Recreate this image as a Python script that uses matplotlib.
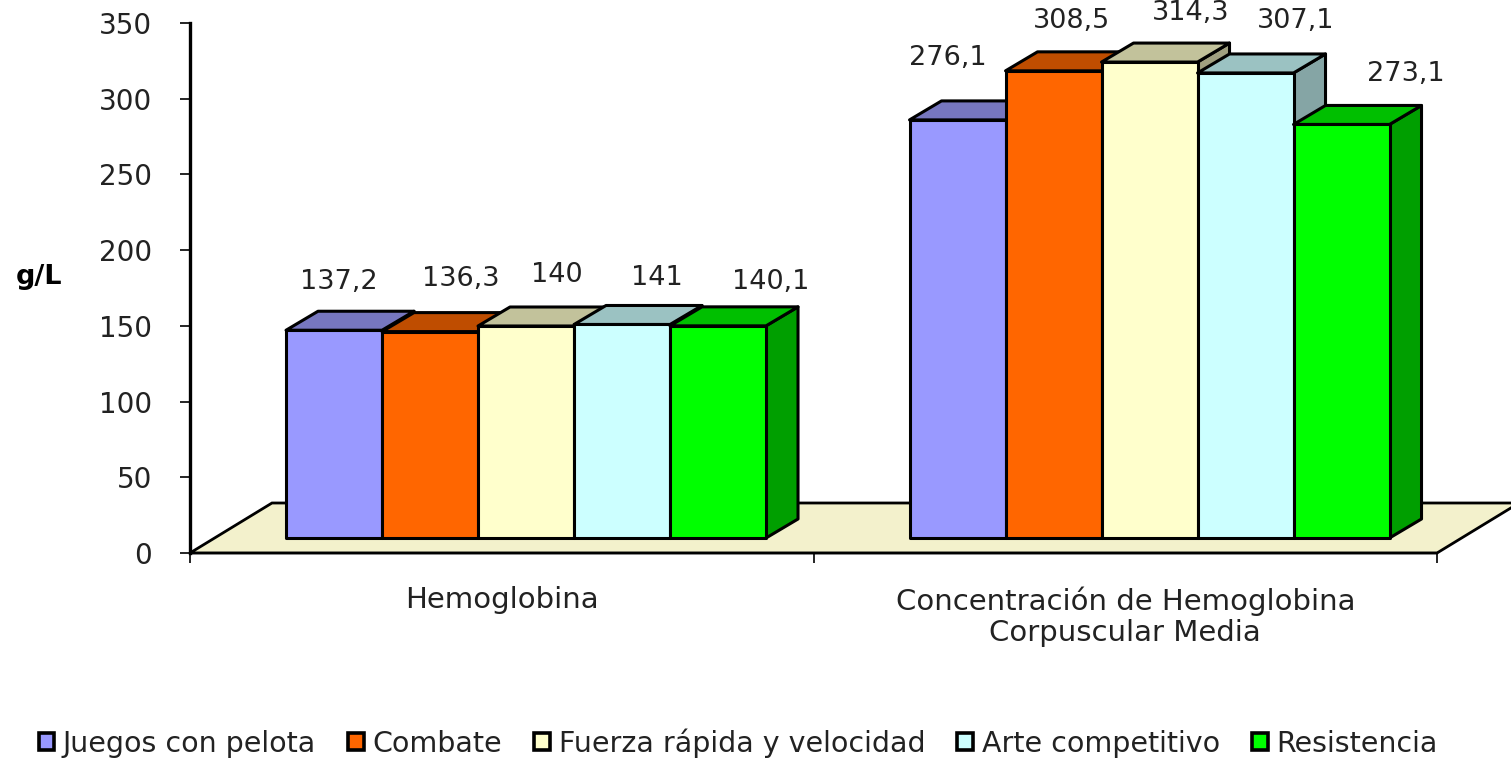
import matplotlib
matplotlib.use('Agg')
import matplotlib.pyplot as plt
from matplotlib.patches import Polygon, Patch

categories = ['Hemoglobina', 'Concentración de Hemoglobina\nCorpuscular Media']
series = ['Juegos con pelota', 'Combate', 'Fuerza rápida y velocidad', 'Arte competitivo', 'Resistencia']
hemoglobina = [137.2, 136.3, 140, 141, 140.1]
concentracion = [276.1, 308.5, 314.3, 307.1, 273.1]
labels_hb = ['137,2', '136,3', '140', '141', '140,1']
labels_chcm = ['276,1', '308,5', '314,3', '307,1', '273,1']
yticks = [0, 50, 100, 150, 200, 250, 300, 350]

colors = ['#9999FF', '#FF6600', '#FFFFCC', '#CCFFFF', '#00FF00']
tops = ['#7777BF', '#BF4D00', '#C2C29B', '#9BC2C2', '#00BF00']
sides = ['#6060A0', '#A04000', '#A0A080', '#85A5A5', '#009F00']
floor_color = '#F3F1CC'

# label offsets from the top of each bar, in pixels
offs_hb = [(5, 48), (31, 53), (31, 51), (35, 46), (53, 44)]
offs_chcm = [(-10, 62), (18, 50), (41, 49), (50, 52), (64, 50)]

FS = 20
plt.rcParams['font.family'] = ['DejaVu Sans']

W, H = 1511, 759
fig = plt.figure(figsize=(W / 100, H / 100), dpi=100)
ax = fig.add_axes([190 / W, 1 - 553 / H, 1247 / W, 530 / H])
ax.set_xlim(0, 2)
ax.set_ylim(0, 350)

px_x = 2 / 1247
px_y = 350 / 530
bar_w = 96 * px_x
base = 15 * px_y
dx, dy = 32 * px_x, 19 * px_y
fdx, fdy = 82 * px_x, 50 * px_y

floor = Polygon([(0, 0), (fdx, fdy), (2 + fdx, fdy), (2, 0)], closed=True, fc=floor_color,
                ec='black', lw=2, clip_on=False, zorder=1)
ax.add_patch(floor)

for g, (vals, labs, offs) in enumerate([(hemoglobina, labels_hb, offs_hb),
                                        (concentracion, labels_chcm, offs_chcm)]):
    start = g + 0.154
    for i, v in enumerate(vals):
        x0 = start + i * bar_w
        x1 = x0 + bar_w
        y1 = base + v
        kw = dict(closed=True, ec='black', lw=2.2, clip_on=False, zorder=2 + i, joinstyle='round')
        ax.add_patch(Polygon([(x1, base), (x1 + dx, base + dy), (x1 + dx, y1 + dy), (x1, y1)], fc=sides[i], **kw))
        ax.add_patch(Polygon([(x0, y1), (x0 + dx, y1 + dy), (x1 + dx, y1 + dy), (x1, y1)], fc=tops[i], **kw))
        ax.add_patch(Polygon([(x0, base), (x0, y1), (x1, y1), (x1, base)], fc=colors[i], **kw))
        ax.annotate(labs[i], (x0 + bar_w / 2, y1), xytext=offs[i], textcoords='offset pixels',
                    ha='center', va='center', fontsize=19.5, color='#222222', annotation_clip=False, zorder=20)

for s in ['top', 'right']:
    ax.spines[s].set_visible(False)
ax.spines['left'].set_linewidth(2.4)
ax.spines['bottom'].set_linewidth(1.6)
ax.set_yticks(yticks)
ax.set_xticks([0, 1, 2])
ax.set_xticklabels([])
ax.tick_params(axis='y', length=7.5, width=1.2, labelsize=FS, pad=20, labelcolor='#222222')
ax.tick_params(axis='x', length=7, width=1.2)

for k, c in enumerate(categories):
    ax.annotate(c, (k + 0.5, 0), xytext=(0, -33), textcoords='offset pixels', ha='center', va='top',
                fontsize=21, color='#222222', linespacing=1.15, annotation_clip=False)

ax.set_ylabel('g/L', rotation=0, fontsize=19.5, fontweight='bold', ha='center', va='center')
ax.yaxis.set_label_coords((39 - 190) / 1247, (553 - 277) / 530)

handles = [Patch(fc=c, ec='black', lw=2.6) for c in colors]
leg = ax.legend(handles, series, ncols=5, frameon=False, fontsize=20.5, handlelength=0.56, handleheight=0.56,
                handletextpad=0.3, columnspacing=1.12, loc='center', borderaxespad=0,
                bbox_to_anchor=((738 - 190) / 1247, (553 - 743) / 530), labelcolor='#222222')

fig.savefig('out.png', dpi=100)
